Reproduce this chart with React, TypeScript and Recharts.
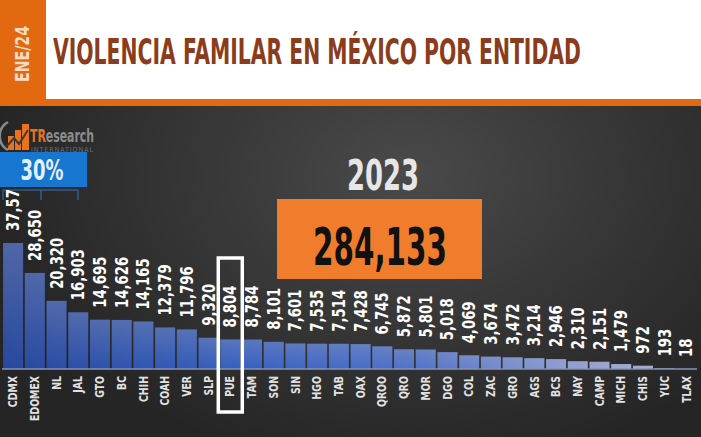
import React from "react";
import { Bar, BarChart, LabelList, XAxis, YAxis } from "recharts";

// Values (state abbreviations, cases in 2023).
const STATES = [
  "CDMX", "EDOMEX", "NL", "JAL", "GTO", "BC", "CHIH", "COAH", "VER", "SLP",
  "PUE", "TAM", "SON", "SIN", "HGO", "TAB", "OAX", "QROO", "QRO", "MOR",
  "DGO", "COL", "ZAC", "GRO", "AGS", "BCS", "NAY", "CAMP", "MICH", "CHIS",
  "YUC", "TLAX",
];
const CASES = [
  37578, 28650, 20320, 16903, 14695, 14626, 14165, 12379, 11796, 9320,
  8804, 8784, 8101, 7601, 7535, 7514, 7428, 6745, 5872, 5801,
  5018, 4069, 3674, 3472, 3214, 2946, 2310, 2151, 1479, 972,
  193, 18,
];
const TITLE = "VIOLENCIA FAMILAR EN MÉXICO POR ENTIDAD";
const PERIOD = "ENE/24";
const YEAR = "2023";
const TOTAL = 284133;
const SHARE = "30%";
const HIGHLIGHT = "PUE";

const data = STATES.map((state, i) => ({ state, cases: CASES[i] }));

const COND = "'Liberation Sans Narrow', 'DejaVu Sans Condensed', 'Roboto', sans-serif";
const ORANGE = "#e2690f";
const BROWN = "#8a3c1c";

function ValueLabel(props: any) {
  const { x, y, width, height, value, index } = props;
  const cx = x + width / 2;
  const ty = y - 12;
  const base = y + height;
  return (
    <g>
      <text
        x={0}
        y={0}
        transform={`translate(${cx} ${ty}) rotate(-90) scale(0.82 1)`}
        textAnchor="start"
        dominantBaseline="central"
        fill="#ffffff"
        fontFamily={COND}
        fontWeight={700}
        fontSize={18}
      >
        {Number(value).toLocaleString("en-US")}
      </text>
      {STATES[index] === HIGHLIGHT && (
        <rect
          x={x - 2}
          y={base - 111}
          width={width + 4}
          height={154}
          fill="none"
          stroke="#ffffff"
          strokeWidth={3.5}
        />
      )}
    </g>
  );
}

function StateTick(props: any) {
  const { x, y, payload } = props;
  return (
    <text
      x={0}
      y={0}
      transform={`translate(${x} ${y}) rotate(-90) scale(0.8 1)`}
      textAnchor="end"
      dominantBaseline="central"
      fill="#e2e2e2"
      fontFamily={COND}
      fontWeight={700}
      fontSize={13}
    >
      {payload.value}
    </text>
  );
}

function BarShape(props: any) {
  const { x, y, width, height } = props;
  if (height <= 0) return null;
  return (
    <g>
      <rect x={x} y={y} width={width} height={height} fill="url(#barBlue)" />
      <rect x={x} y={y} width={width} height={height} fill="url(#barShade)" />
    </g>
  );
}

function Logo() {
  return (
    <svg width={110} height={40} style={{ position: "absolute", left: 0, top: 118 }}>
      <path d="M8 4 A16 16 0 0 0 8 32" fill="none" stroke="#8a8a8a" strokeWidth={2.5} />
      <rect x={8} y={18} width={6} height={14} fill="#e8731c" />
      <rect x={15} y={12} width={6} height={20} fill="#e8731c" />
      <rect x={22} y={6} width={7} height={26} fill="#e8731c" />
      <path d="M7 28 L14 20 L19 26 L28 12" fill="none" stroke="#3a3a3a" strokeWidth={2} />
      <text
        x={0}
        y={0}
        transform="translate(30 24) scale(1 1.5)"
        fontFamily={COND}
        fontWeight={700}
        fontSize={12}
        fill="#8d8d8d"
        textLength={64}
        lengthAdjust="spacingAndGlyphs"
      >
        <tspan fill="#e8731c">TR</tspan>esearch
      </text>
      <text x={31} y={34} fontFamily={COND} fontSize={7} fill="#6f6f6f" textLength={62}>
        INTERNATIONAL
      </text>
    </svg>
  );
}

export default function App() {
  return (
    <div
      style={{
        position: "absolute",
        left: 0,
        top: 0,
        width: 701,
        height: 437,
        overflow: "hidden",
        background:
          "radial-gradient(ellipse 70% 80% at 58% 40%, #4a4a4a 0%, #3a3a3a 35%, #252525 85%)",
      }}
    >
      {/* header band */}
      <div style={{ position: "absolute", left: 0, top: 0, width: 701, height: 106, background: "#ffffff" }}>
        <svg width={701} height={106}>
          <rect x={0} y={0} width={46} height={100} fill={ORANGE} />
          <rect x={0} y={99} width={701} height={7} fill={ORANGE} />
          <text
            x={0}
            y={0}
            transform="translate(22 54) rotate(-90) scale(1 1.6)"
            textAnchor="middle"
            dominantBaseline="central"
            fontFamily={COND}
            fontWeight={700}
            fontSize={12}
            fill="#f7dcc4"
            textLength={56}
            lengthAdjust="spacingAndGlyphs"
          >
            {PERIOD}
          </text>
          <text
            x={0}
            y={0}
            transform="translate(53 64) scale(1 1.65)"
            fontFamily={COND}
            fontWeight={700}
            fontSize={22}
            fill={BROWN}
            textLength={528}
            lengthAdjust="spacingAndGlyphs"
          >
            {TITLE}
          </text>
        </svg>
      </div>

      <Logo />

      {/* share badge */}
      <div
        style={{
          position: "absolute",
          left: 0,
          top: 152,
          width: 87,
          height: 35,
          background: "#1676d0",
        }}
      >
        <svg width={87} height={35}>
          <text
            x={0}
            y={0}
            transform="translate(42 28) scale(1 1.45)"
            textAnchor="middle"
            fontFamily={COND}
            fontWeight={700}
            fontSize={19}
            fill="#e4f1ff"
            textLength={43}
            lengthAdjust="spacingAndGlyphs"
          >
            {SHARE}
          </text>
        </svg>
      </div>
      <svg width={90} height={14} style={{ position: "absolute", left: 0, top: 186 }}>
        <path d="M3 14 V4 H78 V14 M41 4 V14" fill="none" stroke="#2a78c8" strokeWidth={1} />
      </svg>

      {/* year */}
      <svg width={240} height={50} style={{ position: "absolute", left: 262, top: 150 }}>
        <text
          x={0}
          y={0}
          transform="translate(121 40) scale(1 1.4)"
          textAnchor="middle"
          fontFamily={COND}
          fontWeight={700}
          fontSize={30}
          fill="#e6e6e6"
          textLength={72}
          lengthAdjust="spacingAndGlyphs"
        >
          {YEAR}
        </text>
      </svg>

      <div style={{ position: "absolute", left: 0, top: 190 }}>
        <BarChart
          width={701}
          height={247}
          data={data}
          margin={{ top: 53, right: 4, bottom: 0, left: 2 }}
          barCategoryGap="5%"
          style={{ overflow: "hidden" }}
        >
          <defs>
            <linearGradient id="barBlue" gradientUnits="userSpaceOnUse" x1={0} y1={0} x2={701} y2={0}>
              <stop offset="0%" stopColor="#27479d" />
              <stop offset="35%" stopColor="#3660c2" />
              <stop offset="60%" stopColor="#5173cc" />
              <stop offset="80%" stopColor="#8c9cd6" />
              <stop offset="100%" stopColor="#b8bcd4" />
            </linearGradient>
            <linearGradient id="barShade" x1={0} y1={0} x2={0} y2={1}>
              <stop offset="0%" stopColor="#9aa0b4" stopOpacity={0.35} />
              <stop offset="100%" stopColor="#9aa0b4" stopOpacity={0} />
            </linearGradient>
          </defs>
          <XAxis
            dataKey="state"
            interval={0}
            height={68}
            tickLine={false}
            tickSize={0}
            tickMargin={7}
            axisLine={{ stroke: "#8592b4", strokeWidth: 1.5 }}
            tick={<StateTick />}
          />
          <YAxis hide domain={[0, 37578]} />
          <Bar dataKey="cases" shape={<BarShape />} isAnimationActive={false}>
            <LabelList dataKey="cases" content={<ValueLabel />} />
          </Bar>
        </BarChart>
      </div>

      {/* total box */}
      <div
        style={{
          position: "absolute",
          left: 277,
          top: 199,
          width: 205,
          height: 80,
          background: "#f07d2c",
        }}
      >
        <svg width={205} height={80}>
          <text
            x={0}
            y={0}
            transform="translate(103 66) scale(1 1.45)"
            textAnchor="middle"
            fontFamily={COND}
            fontWeight={700}
            fontSize={36}
            fill="#111111"
            textLength={134}
            lengthAdjust="spacingAndGlyphs"
          >
            {TOTAL.toLocaleString("en-US")}
          </text>
        </svg>
      </div>
    </div>
  );
}
